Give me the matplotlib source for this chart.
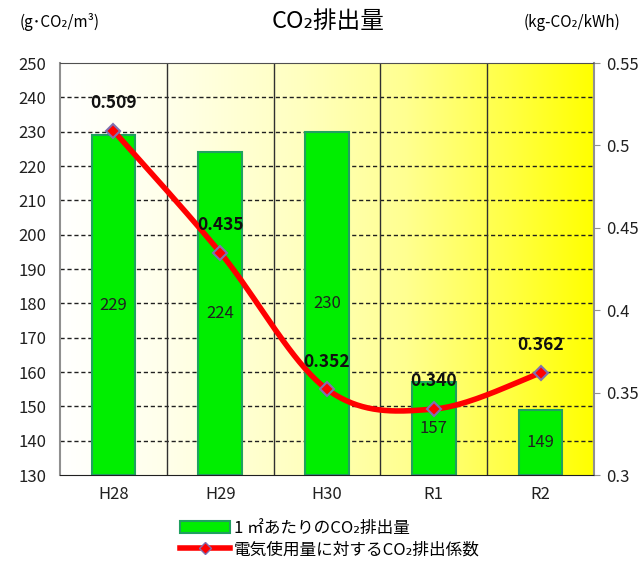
import numpy as np
import matplotlib
matplotlib.use("Agg")
import matplotlib.pyplot as plt
from matplotlib.colors import LinearSegmentedColormap
from matplotlib.patches import Patch
from matplotlib.lines import Line2D

plt.rcParams['font.family'] = ['Noto Sans CJK JP', 'DejaVu Sans']

categories = ["H28", "H29", "H30", "R1", "R2"]
bar_values = [229, 224, 230, 157, 149]
coef_values = [0.509, 0.435, 0.352, 0.340, 0.362]
left_ticks = list(range(130, 251, 10))
right_ticks = [0.3, 0.35, 0.4, 0.45, 0.5, 0.55]
right_tick_labels = ["0.3", "0.35", "0.4", "0.45", "0.5", "0.55"]

fig = plt.figure(figsize=(6.41, 5.69), dpi=100)
L, R, T, B = 60, 594, 63, 475
W, H = 641, 569
ax = fig.add_axes([L / W, 1 - B / H, (R - L) / W, (B - T) / H])

n = len(categories)
x = np.arange(n)
ax.set_xlim(-0.5, n - 0.5)
ax.set_ylim(130, 250)

# gradient background
cmap = LinearSegmentedColormap.from_list(
    "bg", [(0, "#FFFFFF"), (0.2, "#FFFFEA"), (0.45, "#FFFFC0"),
           (0.65, "#FFFF90"), (0.85, "#FFFF40"), (1.0, "#FFFF00")])
grad = np.linspace(0, 1, 256).reshape(1, -1)
ax.imshow(grad, extent=(-0.5, n - 0.5, 130, 250), aspect='auto', cmap=cmap,
          zorder=0, interpolation='bilinear')

# grid
for v in left_ticks[1:-1]:
    ax.axhline(v, color="#202020", lw=1.0, ls=(0, (3, 2)), zorder=1)
for b in np.arange(0.5, n - 0.5, 1):
    ax.axvline(b, color="#303030", lw=1.0, zorder=1)

ax.bar(x, [v - 130 for v in bar_values], bottom=130, width=0.41,
       color="#00EE00", edgecolor="#20A060", linewidth=1.5, zorder=2)
for xi, v in zip(x, bar_values):
    ax.text(xi, (130 + v) / 2, str(v), ha='center', va='center',
            fontsize=12, color="#202020", zorder=3)

ax.set_xticks(x)
ax.set_xticklabels(categories, fontsize=12, color="#202020")
ax.set_yticks(left_ticks)
ax.set_yticklabels([str(v) for v in left_ticks], fontsize=12, color="#202020")
ax.tick_params(axis='x', length=0, pad=8)
ax.tick_params(axis='y', length=0, pad=10)
for s in ['left', 'right']:
    ax.spines[s].set_color("#909090")
    ax.spines[s].set_linewidth(1.5)
ax.spines['top'].set_color("#505050")
ax.spines['bottom'].set_color("#202020")

ax2 = ax.twinx()
ax2.set_ylim(0.3, 0.55)
ax2.set_yticks(right_ticks)
ax2.set_yticklabels(right_tick_labels, fontsize=12, color="#202020")
ax2.tick_params(axis='y', length=4, color="#909090", pad=5)
for s in ax2.spines.values():
    s.set_visible(False)

# Catmull-Rom smoothing in pixel-aspect space
px = (x + 0.5) / n * (R - L)
py = (np.array(coef_values) - 0.3) / 0.25 * (B - T)
P = np.column_stack([px, py])
Pext = np.vstack([P[0], P, P[-1]])
curve = []
for i in range(1, len(Pext) - 2):
    p0, p1, p2, p3 = Pext[i - 1], Pext[i], Pext[i + 1], Pext[i + 2]
    t = np.linspace(0, 1, 40)[:, None]
    seg = 0.5 * ((2 * p1) + (-p0 + p2) * t + (2 * p0 - 5 * p1 + 4 * p2 - p3) * t ** 2
                 + (-p0 + 3 * p1 - 3 * p2 + p3) * t ** 3)
    curve.append(seg)
curve = np.vstack(curve)
cx = curve[:, 0] / (R - L) * n - 0.5
cy = curve[:, 1] / (B - T) * 0.25 + 0.3
ax2.plot(cx, cy, color="#FF0000", lw=4, zorder=4, solid_capstyle='round')
ax2.plot(x, coef_values, ls='none', marker='D', ms=7, markerfacecolor="#FF0000",
         markeredgecolor="#8070B0", markeredgewidth=1.5, zorder=5)
for xi, v in zip(x, coef_values):
    ax2.annotate(f"{v:.3f}", (xi, v), xytext=(0, 20), textcoords='offset points',
                 ha='center', va='center', fontsize=12.5, fontweight='semibold',
                 color="#101010", zorder=6)

# titles / units
fig.text(328 / W, 1 - 22 / H, "CO₂排出量", ha='center', va='center', fontsize=17)
fig.text(60 / W, 1 - 22 / H, "(g･CO₂/m³)", ha='center', va='center', fontsize=11)
fig.text(572 / W, 1 - 22 / H, "(kg-CO₂/kWh)", ha='center', va='center', fontsize=11)

handles = [Patch(facecolor="#00EE00", edgecolor="#20A060", linewidth=1.5),
           Line2D([0], [0], color="#FF0000", lw=4, marker='D', ms=6,
                  markerfacecolor="#FF0000", markeredgecolor="#8070B0")]
labels = ["1 ㎡あたりのCO₂排出量", "電気使用量に対するCO₂排出係数"]
fig.legend(handles, labels, loc='center', bbox_to_anchor=(330 / W, 1 - 539 / H),
           frameon=False, fontsize=12, handlelength=3, handletextpad=0.2,
           labelspacing=0.25)

fig.savefig("out.png", dpi=100)
